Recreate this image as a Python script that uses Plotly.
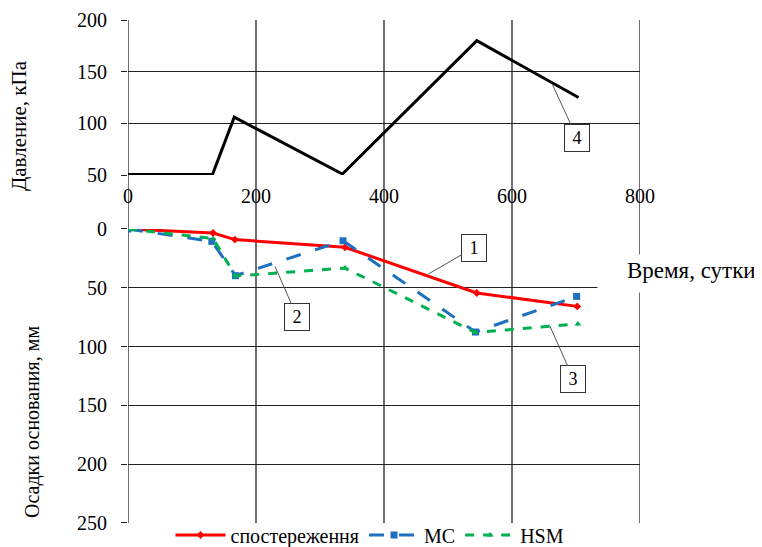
import plotly.graph_objects as go

# ---- data ----
days_pressure = [0, 132, 166, 335, 545, 704]
pressure_kpa = [50.5, 50.5, 106, 51, 180, 125]

days_obs = [0, 133, 167, 339, 545, 702]
settle_obs = [0, 3.4, 9.0, 15.6, 54.4, 65.8]

days_mc = [0, 131, 168, 336, 543, 701]
settle_mc = [0, 10.5, 39.7, 10.0, 87.6, 57.3]

days_hsm = [0, 133, 168, 339, 543, 703]
settle_hsm = [0, 8.2, 40.0, 33.2, 88.0, 80.8]

x_ticks = [0, 200, 400, 600, 800]
p_ticks = [50, 100, 150, 200]
s_ticks = [0, 50, 100, 150, 200, 250]

FONT = "Liberation Serif"
GRID = "#222222"

fig = go.Figure()

fig.add_trace(go.Scatter(x=days_pressure, y=pressure_kpa, xaxis="x", yaxis="y",
                         mode="lines", line=dict(color="black", width=3),
                         showlegend=False))
fig.add_trace(go.Scatter(x=days_obs, y=settle_obs, xaxis="x", yaxis="y2",
                         mode="lines+markers", name="спостереження",
                         line=dict(color="#FF0000", width=3),
                         marker=dict(symbol="diamond", size=6, color="#FF0000")))
fig.add_trace(go.Scatter(x=days_mc, y=settle_mc, xaxis="x", yaxis="y2",
                         mode="lines+markers", name="MC",
                         line=dict(color="#1F6FC0", width=3, dash="longdash"),
                         marker=dict(symbol="square", size=7, color="#1F6FC0")))
fig.add_trace(go.Scatter(x=days_hsm, y=settle_hsm, xaxis="x", yaxis="y2",
                         mode="lines+markers", name="HSM",
                         line=dict(color="#00B050", width=3, dash="dash"),
                         marker=dict(symbol="triangle-up", size=6, color="#00B050")))

shapes = []
for v in x_ticks:
    shapes.append(dict(type="line", xref="x", yref="paper", x0=v, x1=v, y0=0, y1=1,
                       line=dict(color=GRID, width=1.3), layer="below"))

callout = dict(showarrow=True, arrowhead=0, arrowwidth=1, arrowcolor="#555555",
               bordercolor="#333333", borderwidth=1, bgcolor="white",
               font=dict(family=FONT, size=18, color="black"),
               width=20, height=22, borderpad=2, axref="x", xref="x")

annotations = [
    dict(text="4", x=663.6, y=137, ax=701.6, ay=85.8, yref="y", ayref="y", **callout),
    dict(text="1", x=469.3, y=38.3, ax=540.6, ay=15.9, yref="y2", ayref="y2", **callout),
    dict(text="2", x=229.7, y=31.8, ax=264, ay=74.5, yref="y2", ayref="y2", **callout),
    dict(text="3", x=659.4, y=82.8, ax=695.8, ay=127.3, yref="y2", ayref="y2", **callout),
    # white box that interrupts the grid behind the x-axis title
    dict(text=" ", xref="paper", yref="paper", x=1.078, y=0.496,
         xanchor="center", yanchor="middle", width=164, height=37,
         bgcolor="white", borderpad=0, showarrow=False),
    dict(text="Время, сутки", xref="paper", yref="paper", x=0.9707, y=0.501,
         xanchor="left", yanchor="middle", showarrow=False,
         font=dict(family=FONT, size=23, color="black")),
    dict(text="Давление, кПа", xref="paper", yref="paper", x=-0.2129, y=0.791,
         xanchor="center", yanchor="middle", textangle=-90, showarrow=False,
         font=dict(family=FONT, size=21, color="black")),
    dict(text="Осадки основания, мм", xref="paper", yref="paper", x=-0.1855, y=0.2008,
         xanchor="center", yanchor="middle", textangle=-90, showarrow=False,
         font=dict(family=FONT, size=20, color="black")),
]

# the page body adds an 8px offset at left/top, so the figure is 8px smaller
fig.update_layout(
    width=754, height=539,
    margin=dict(l=120, r=122, t=12, b=24, autoexpand=False),
    paper_bgcolor="white", plot_bgcolor="white",
    font=dict(family=FONT, size=20, color="black"),
    xaxis=dict(domain=[0, 1], range=[0, 800], anchor="y", tickvals=x_ticks,
               showgrid=False, zeroline=False, showline=False, ticks="",
               tickfont=dict(size=20), ticklabelstandoff=7),
    yaxis=dict(domain=[0.6918, 1], range=[50, 200], anchor="x", tickvals=p_ticks,
               showgrid=True, gridcolor=GRID, gridwidth=1.3, zeroline=False,
               showline=False, ticks="outside", ticklen=6, tickcolor=GRID,
               ticklabelstandoff=10),
    yaxis2=dict(domain=[0, 0.5845], range=[250, 0], anchor="x", tickvals=s_ticks,
                showgrid=True, gridcolor=GRID, gridwidth=1.3, zeroline=False,
                showline=False, ticks="outside", ticklen=6, tickcolor=GRID,
                ticklabelstandoff=10),
    legend=dict(orientation="h", x=0.4727, xanchor="center", y=-0.0239,
                yanchor="middle", font=dict(family=FONT, size=20),
                itemwidth=50, bgcolor="rgba(0,0,0,0)"),
    shapes=shapes,
    annotations=annotations,
)

fig.write_html("out.html")
